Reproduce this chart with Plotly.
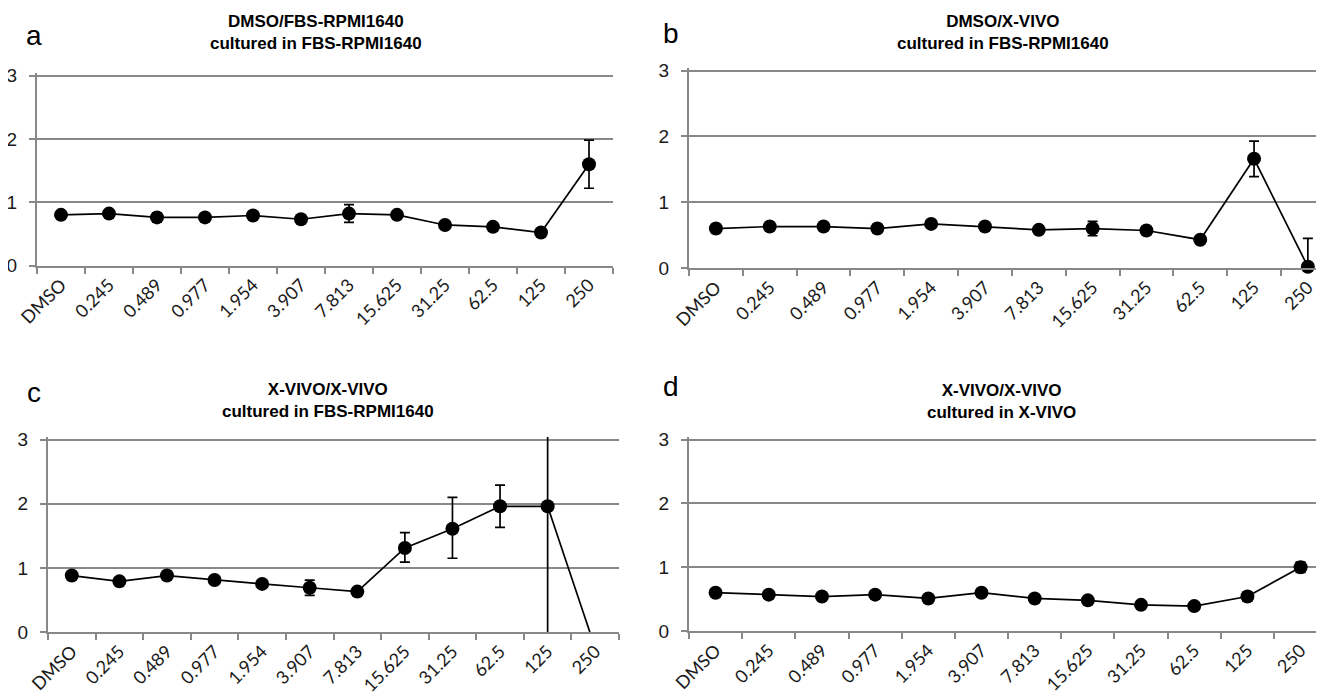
import plotly.graph_objects as go

categories = ["DMSO", "0.245", "0.489", "0.977", "1.954", "3.907", "7.813",
              "15.625", "31.25", "62.5", "125", "250"]

# panel a: DMSO/FBS-RPMI1640 cultured in FBS-RPMI1640
a_vals = [0.80, 0.82, 0.76, 0.76, 0.79, 0.73, 0.82, 0.80, 0.64, 0.61, 0.52, 1.60]
a_errp = [0.03, 0.03, 0.07, 0.03, 0.03, 0.03, 0.14, 0.03, 0.03, 0.05, 0.04, 0.38]
a_errm = [0.03, 0.03, 0.07, 0.03, 0.03, 0.03, 0.14, 0.03, 0.03, 0.05, 0.04, 0.38]

# panel b: DMSO/X-VIVO cultured in FBS-RPMI1640
b_vals = [0.60, 0.63, 0.63, 0.60, 0.67, 0.63, 0.58, 0.60, 0.57, 0.43, 1.66, 0.02]
b_errp = [0.03, 0.03, 0.03, 0.06, 0.03, 0.03, 0.03, 0.11, 0.03, 0.04, 0.27, 0.43]
b_errm = [0.03, 0.03, 0.03, 0.06, 0.03, 0.03, 0.03, 0.11, 0.03, 0.04, 0.27, 0.02]

# panel c: X-VIVO/X-VIVO cultured in FBS-RPMI1640
c_vals = [0.88, 0.79, 0.88, 0.81, 0.75, 0.69, 0.63, 1.31, 1.61, 1.96, 1.96, -0.25]
c_errp = [0.04, 0.04, 0.06, 0.04, 0.04, 0.12, 0.04, 0.24, 0.49, 0.33, 2.20, 0.0]
c_errm = [0.04, 0.04, 0.06, 0.04, 0.04, 0.12, 0.04, 0.22, 0.46, 0.33, 2.20, 0.0]

# panel d: X-VIVO/X-VIVO cultured in X-VIVO
d_vals = [0.60, 0.57, 0.54, 0.57, 0.51, 0.60, 0.51, 0.48, 0.41, 0.39, 0.54, 1.00]
d_errp = [0.03, 0.03, 0.05, 0.03, 0.03, 0.03, 0.03, 0.04, 0.03, 0.03, 0.07, 0.08]
d_errm = [0.03, 0.03, 0.05, 0.03, 0.03, 0.03, 0.03, 0.04, 0.03, 0.03, 0.07, 0.08]

titles = [
    "DMSO/FBS-RPMI1640<br>cultured in FBS-RPMI1640",
    "DMSO/X-VIVO<br>cultured in FBS-RPMI1640",
    "X-VIVO/X-VIVO<br>cultured in FBS-RPMI1640",
    "X-VIVO/X-VIVO<br>cultured in X-VIVO",
]
letters = ["a", "b", "c", "d"]
y_ticks = [0, 1, 2, 3]

# the page body has an 8px margin; lay out in window pixels, then offset
OFF = 8
W, H = 1324 - OFF, 692 - OFF
# pixel boxes in window coords: (left, right, top, bottom, xmax)
boxes = [
    (37, 613, 73, 265.5, 11.5),
    (689, 1324, 68, 268, 11.3),
    (48, 619, 437, 632, 11.5),
    (689, 1324, 437, 631, 11.44),
]
title_pos = [(316, 32), (1003, 32), (328, 400), (1001, 401)]
letter_pos = [(34, 35), (671, 33), (34, 392), (671, 386)]


def px(x):
    return (x - OFF) / W


def py(y):
    return 1 - (y - OFF) / H


series = [(a_vals, a_errp, a_errm), (b_vals, b_errp, b_errm),
          (c_vals, c_errp, c_errm), (d_vals, d_errp, d_errm)]

GRID = "#888888"
fig = go.Figure()
layout = dict(width=W, height=H, margin=dict(l=0, r=0, t=0, b=0, autoexpand=False),
              paper_bgcolor="white", plot_bgcolor="white", showlegend=False)
annotations = []
for i, ((vals, ep, em), (l, r, t, b, xmax)) in enumerate(zip(series, boxes)):
    xa = "x" if i == 0 else f"x{i+1}"
    ya = "y" if i == 0 else f"y{i+1}"
    fig.add_trace(go.Scatter(
        x=categories, y=vals, xaxis=xa, yaxis=ya, mode="lines+markers",
        line=dict(color="black", width=1.7),
        marker=dict(color="black", size=14),
        error_y=dict(type="data", array=ep, arrayminus=em, symmetric=False,
                     color="black", thickness=1.7, width=5),
        cliponaxis=(i == 2),
    ))
    xkey = "xaxis" if i == 0 else f"xaxis{i+1}"
    ykey = "yaxis" if i == 0 else f"yaxis{i+1}"
    layout[xkey] = dict(
        domain=[px(l), min(1.0, px(r))], anchor=ya, type="category",
        categoryorder="array", categoryarray=categories,
        range=[-0.5, xmax], tickson="boundaries", ticks="outside",
        ticklen=6, tickcolor=GRID, tickwidth=2, showgrid=False,
        showline=True, linecolor=GRID, linewidth=2, tickangle=-45,
        tickfont=dict(family="Lato, Carlito, sans-serif", size=18, color="#1a1a1a"),
        fixedrange=True, automargin=False,
    )
    layout[ykey] = dict(
        domain=[py(b), py(t)], anchor=xa, range=[0, 3.04],
        tickvals=y_ticks, ticks="outside", ticklen=6, tickcolor=GRID,
        tickwidth=2, showgrid=True, gridcolor=GRID, gridwidth=2,
        showline=True, linecolor=GRID, linewidth=2, zeroline=False,
        ticklabelstandoff=8,
        tickfont=dict(family="Liberation Sans, Arial, sans-serif", size=19, color="#1a1a1a"),
        fixedrange=True, automargin=False,
    )
    tx, ty = title_pos[i]
    annotations.append(dict(
        text="<b>" + titles[i].replace("<br>", "</b><br><b>") + "</b>",
        x=px(tx), y=py(ty), xref="paper", yref="paper",
        xanchor="center", yanchor="middle", showarrow=False,
        font=dict(family="Liberation Sans, Arial, sans-serif", size=17, color="black"),
    ))
    lx, ly = letter_pos[i]
    annotations.append(dict(
        text=letters[i], x=px(lx), y=py(ly), xref="paper", yref="paper",
        xanchor="center", yanchor="middle", showarrow=False,
        font=dict(family="Liberation Sans, Arial, sans-serif", size=28, color="black"),
    ))
layout["annotations"] = annotations
fig.update_layout(**layout)
fig.write_html("out.html")
